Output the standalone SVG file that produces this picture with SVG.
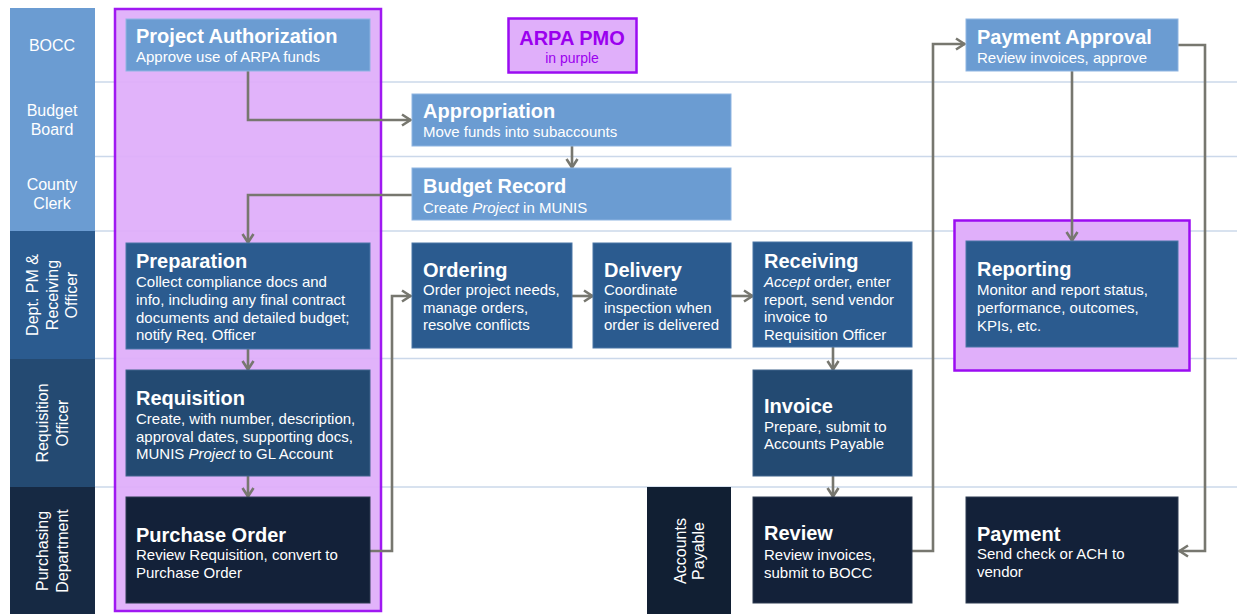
<svg xmlns="http://www.w3.org/2000/svg" width="1237" height="614" viewBox="0 0 1237 614">
<defs>
<marker id="arr" viewBox="0 0 12 14" refX="11" refY="7" markerWidth="12" markerHeight="14" markerUnits="userSpaceOnUse" orient="auto">
<path d="M2,1.5 L10.5,7 L2,12.5" fill="none" stroke="#77776f" stroke-width="2.6"/>
</marker>
</defs>
<style>
text{font-family:"Liberation Sans",Arial,sans-serif;fill:#ffffff}
.lane{font-size:16px}
.t{font-size:20px;font-weight:bold}
.b{font-size:15px}
.lt{fill:#6b9cd2;stroke:#8fb5e2;stroke-width:1}
.md{fill:#2b5b8f;stroke:#4b76a6;stroke-width:1}
.dk{fill:#234a72;stroke:#41658c;stroke-width:1}
.vd{fill:#132139;stroke:#2e3c52;stroke-width:1}
.sep{stroke:#cbd8ea;stroke-width:1.5}
.pmo{fill:#e0affa;stroke:#9b0cf2;stroke-width:2.5}
.con path{fill:none;stroke:#77776f;stroke-width:2.6;marker-end:url(#arr)}
</style>
<rect width="1237" height="614" fill="#ffffff"/>
<g id="lanes">
<rect x="10" y="8" width="85" height="223" fill="#6b9cd2"/>
<rect x="10" y="231" width="85" height="128" fill="#2b5b8f"/>
<rect x="10" y="359" width="85" height="128" fill="#244a72"/>
<rect x="10" y="487" width="85" height="127" fill="#162943"/>
<line class="sep" x1="95" y1="82" x2="1237" y2="82"/>
<line class="sep" x1="95" y1="156.5" x2="1237" y2="156.5"/>
<line class="sep" x1="95" y1="231" x2="1237" y2="231"/>
<line class="sep" x1="95" y1="358.5" x2="1237" y2="358.5"/>
<line class="sep" x1="95" y1="487" x2="1237" y2="487"/>
<text class="lane" x="52" y="51" text-anchor="middle">BOCC</text>
<text class="lane" x="52" y="116" text-anchor="middle">Budget</text>
<text class="lane" x="52" y="135" text-anchor="middle">Board</text>
<text class="lane" x="52" y="190" text-anchor="middle">County</text>
<text class="lane" x="52" y="209" text-anchor="middle">Clerk</text>
<text class="lane" transform="translate(38,295) rotate(-90)" text-anchor="middle">Dept. PM &amp;</text>
<text class="lane" transform="translate(57.5,295) rotate(-90)" text-anchor="middle">Receiving</text>
<text class="lane" transform="translate(77,295) rotate(-90)" text-anchor="middle">Officer</text>
<text class="lane" transform="translate(48,423) rotate(-90)" text-anchor="middle">Requisition</text>
<text class="lane" transform="translate(68,423) rotate(-90)" text-anchor="middle">Officer</text>
<text class="lane" transform="translate(48,551) rotate(-90)" text-anchor="middle">Purchasing</text>
<text class="lane" transform="translate(68,551) rotate(-90)" text-anchor="middle">Department</text>
</g>
<g id="arpa-region">
<rect class="pmo" x="115" y="9" width="266" height="602" opacity="0.95"/>
</g>
<g id="reporting-region">
<rect class="pmo" x="954.5" y="220.5" width="235" height="150"/>
</g>
<g id="legend">
<rect class="pmo" x="508.5" y="18.5" width="128" height="54"/>
<text x="572" y="45" text-anchor="middle" style="font-size:20px;font-weight:bold;fill:#9b00ef">ARPA PMO</text>
<text x="572" y="63" text-anchor="middle" style="font-size:14px;fill:#9b00ef">in purple</text>
</g>
<g id="accounts-payable-lane">
<rect x="647" y="487" width="84" height="127" fill="#111f33"/>
<text class="lane" transform="translate(686,551) rotate(-90)" text-anchor="middle">Accounts</text>
<text class="lane" transform="translate(704,551) rotate(-90)" text-anchor="middle">Payable</text>
</g>
<g class="con" id="connectors">
<path d="M248,71 V120 H411"/>
<path d="M572,146 V168"/>
<path d="M412,195 H248 V243"/>
<path d="M248,349 V370"/>
<path d="M248,476 V497"/>
<path d="M370,551 H392 V296 H411"/>
<path d="M572,296 H593"/>
<path d="M731,296 H753"/>
<path d="M833,347 V370"/>
<path d="M833,476 V497"/>
<path d="M912,551 H933 V44 H965"/>
<path d="M1072,71 V241"/>
<path d="M1178,45 H1205 V551 H1179"/>
</g>
<g id="project-authorization">
<rect class="lt" x="126" y="19" width="244" height="52"/>
<text class="t" x="136" y="43">Project Authorization</text>
<text class="b" x="136" y="62">Approve use of ARPA funds</text>
</g>
<g id="appropriation">
<rect class="lt" x="412" y="94" width="319" height="52"/>
<text class="t" x="423" y="118">Appropriation</text>
<text class="b" x="423" y="137">Move funds into subaccounts</text>
</g>
<g id="budget-record">
<rect class="lt" x="412" y="168" width="319" height="52"/>
<text class="t" x="423" y="193">Budget Record</text>
<text class="b" x="423" y="213">Create <tspan font-style="italic">Project</tspan> in MUNIS</text>
</g>
<g id="payment-approval">
<rect class="lt" x="966" y="19" width="212" height="52"/>
<text class="t" x="977" y="44">Payment Approval</text>
<text class="b" x="977" y="63">Review invoices, approve</text>
</g>
<g id="preparation">
<rect class="md" x="126" y="243" width="244" height="106"/>
<text class="t" x="136" y="268">Preparation</text>
<text class="b" x="136" y="287">Collect compliance docs and</text>
<text class="b" x="136" y="305">info, including any final contract</text>
<text class="b" x="136" y="323">documents and detailed budget;</text>
<text class="b" x="136" y="340">notify Req. Officer</text>
</g>
<g id="requisition">
<rect class="dk" x="126" y="370" width="244" height="106"/>
<text class="t" x="136" y="405">Requisition</text>
<text class="b" x="136" y="424">Create, with number, description,</text>
<text class="b" x="136" y="442">approval dates, supporting docs,</text>
<text class="b" x="136" y="459">MUNIS <tspan font-style="italic">Project</tspan> to GL Account</text>
</g>
<g id="purchase-order">
<rect class="vd" x="126" y="497" width="244" height="106"/>
<text class="t" x="136" y="542">Purchase Order</text>
<text class="b" x="136" y="560">Review Requisition, convert to</text>
<text class="b" x="136" y="578">Purchase Order</text>
</g>
<g id="ordering">
<rect class="md" x="412" y="243" width="160" height="105"/>
<text class="t" x="423" y="277">Ordering</text>
<text class="b" x="423" y="295">Order project needs,</text>
<text class="b" x="423" y="313">manage orders,</text>
<text class="b" x="423" y="330">resolve conflicts</text>
</g>
<g id="delivery">
<rect class="md" x="593" y="243" width="138" height="105"/>
<text class="t" x="604" y="277">Delivery</text>
<text class="b" x="604" y="295">Coordinate</text>
<text class="b" x="604" y="313">inspection when</text>
<text class="b" x="604" y="330">order is delivered</text>
</g>
<g id="receiving">
<rect class="md" x="753" y="242" width="159" height="105"/>
<text class="t" x="764" y="268">Receiving</text>
<text class="b" x="764" y="287"><tspan font-style="italic">Accept</tspan> order, enter</text>
<text class="b" x="764" y="305">report, send vendor</text>
<text class="b" x="764" y="322">invoice to</text>
<text class="b" x="764" y="340">Requisition Officer</text>
</g>
<g id="invoice">
<rect class="dk" x="753" y="370" width="159" height="106"/>
<text class="t" x="764" y="413">Invoice</text>
<text class="b" x="764" y="432">Prepare, submit to</text>
<text class="b" x="764" y="449">Accounts Payable</text>
</g>
<g id="review">
<rect class="vd" x="753" y="497" width="159" height="106"/>
<text class="t" x="764" y="540">Review</text>
<text class="b" x="764" y="560">Review invoices,</text>
<text class="b" x="764" y="578">submit to BOCC</text>
</g>
<g id="reporting">
<rect class="md" x="966" y="241" width="212" height="106"/>
<text class="t" x="977" y="276">Reporting</text>
<text class="b" x="977" y="295">Monitor and report status,</text>
<text class="b" x="977" y="313">performance, outcomes,</text>
<text class="b" x="977" y="331">KPIs, etc.</text>
</g>
<g id="payment">
<rect class="vd" x="966" y="497" width="212" height="106"/>
<text class="t" x="977" y="541">Payment</text>
<text class="b" x="977" y="559">Send check or ACH to</text>
<text class="b" x="977" y="577">vendor</text>
</g>
</svg>
